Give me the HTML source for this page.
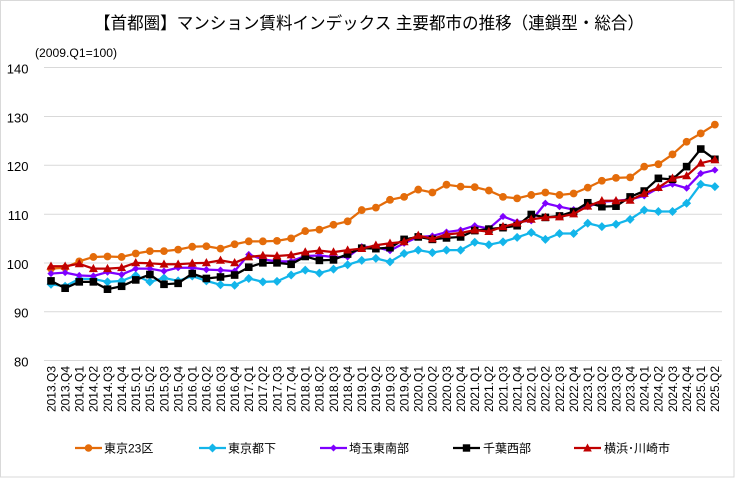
<!DOCTYPE html>
<html><head><meta charset="utf-8"><style>
html,body{margin:0;padding:0;background:#fff;}
svg{display:block;}
text{font-family:"Liberation Sans","Noto Sans CJK JP",sans-serif;fill:#000;}
</style></head><body>
<svg id="c" width="736" height="478" viewBox="0 0 736 478" xmlns="http://www.w3.org/2000/svg">
<rect x="0.5" y="0.5" width="733.5" height="476.5" fill="#fff" stroke="#d9d9d9" stroke-width="1"/>
<text x="94" y="29" font-size="17" textLength="550" lengthAdjust="spacingAndGlyphs">【首都圏】マンション賃料インデックス 主要都市の推移（連鎖型・総合）</text>
<text x="35" y="57" font-size="11.5" textLength="82" lengthAdjust="spacingAndGlyphs">(2009.Q1=100)</text>
<g stroke="#d9d9d9" stroke-width="1">
<line x1="44" x2="722" y1="67.5" y2="67.5"/>
<line x1="44" x2="722" y1="116.5" y2="116.5"/>
<line x1="44" x2="722" y1="165.3" y2="165.3"/>
<line x1="44" x2="722" y1="214.2" y2="214.2"/>
<line x1="44" x2="722" y1="263" y2="263"/>
<line x1="44" x2="722" y1="311.8" y2="311.8"/>
<line x1="44" x2="722" y1="360.5" y2="360.5"/>
</g>
<g font-size="13" text-anchor="end">
<text x="28.5" y="73.5">140</text>
<text x="28.5" y="122.3">130</text>
<text x="28.5" y="171.2">120</text>
<text x="28.5" y="220">110</text>
<text x="28.5" y="268.8">100</text>
<text x="28.5" y="317.6">90</text>
<text x="28.5" y="366.4">80</text>
</g>
<g font-size="12" text-anchor="end">
<text transform="translate(55.3,366) rotate(-90)">2013.Q3</text>
<text transform="translate(69.4,366) rotate(-90)">2013.Q4</text>
<text transform="translate(83.5,366) rotate(-90)">2014.Q1</text>
<text transform="translate(97.7,366) rotate(-90)">2014.Q2</text>
<text transform="translate(111.8,366) rotate(-90)">2014.Q3</text>
<text transform="translate(125.9,366) rotate(-90)">2014.Q4</text>
<text transform="translate(140.0,366) rotate(-90)">2015.Q1</text>
<text transform="translate(154.2,366) rotate(-90)">2015.Q2</text>
<text transform="translate(168.3,366) rotate(-90)">2015.Q3</text>
<text transform="translate(182.4,366) rotate(-90)">2015.Q4</text>
<text transform="translate(196.5,366) rotate(-90)">2016.Q1</text>
<text transform="translate(210.7,366) rotate(-90)">2016.Q2</text>
<text transform="translate(224.8,366) rotate(-90)">2016.Q3</text>
<text transform="translate(238.9,366) rotate(-90)">2016.Q4</text>
<text transform="translate(253.0,366) rotate(-90)">2017.Q1</text>
<text transform="translate(267.2,366) rotate(-90)">2017.Q2</text>
<text transform="translate(281.3,366) rotate(-90)">2017.Q3</text>
<text transform="translate(295.4,366) rotate(-90)">2017.Q4</text>
<text transform="translate(309.5,366) rotate(-90)">2018.Q1</text>
<text transform="translate(323.7,366) rotate(-90)">2018.Q2</text>
<text transform="translate(337.8,366) rotate(-90)">2018.Q3</text>
<text transform="translate(351.9,366) rotate(-90)">2018.Q4</text>
<text transform="translate(366.0,366) rotate(-90)">2019.Q1</text>
<text transform="translate(380.2,366) rotate(-90)">2019.Q2</text>
<text transform="translate(394.3,366) rotate(-90)">2019.Q3</text>
<text transform="translate(408.4,366) rotate(-90)">2019.Q4</text>
<text transform="translate(422.5,366) rotate(-90)">2020.Q1</text>
<text transform="translate(436.7,366) rotate(-90)">2020.Q2</text>
<text transform="translate(450.8,366) rotate(-90)">2020.Q3</text>
<text transform="translate(464.9,366) rotate(-90)">2020.Q4</text>
<text transform="translate(479.0,366) rotate(-90)">2021.Q1</text>
<text transform="translate(493.2,366) rotate(-90)">2021.Q2</text>
<text transform="translate(507.3,366) rotate(-90)">2021.Q3</text>
<text transform="translate(521.4,366) rotate(-90)">2021.Q4</text>
<text transform="translate(535.5,366) rotate(-90)">2022.Q1</text>
<text transform="translate(549.7,366) rotate(-90)">2022.Q2</text>
<text transform="translate(563.8,366) rotate(-90)">2022.Q3</text>
<text transform="translate(577.9,366) rotate(-90)">2022.Q4</text>
<text transform="translate(592.0,366) rotate(-90)">2023.Q1</text>
<text transform="translate(606.2,366) rotate(-90)">2023.Q2</text>
<text transform="translate(620.3,366) rotate(-90)">2023.Q3</text>
<text transform="translate(634.4,366) rotate(-90)">2023.Q4</text>
<text transform="translate(648.5,366) rotate(-90)">2024.Q1</text>
<text transform="translate(662.7,366) rotate(-90)">2024.Q2</text>
<text transform="translate(676.8,366) rotate(-90)">2024.Q3</text>
<text transform="translate(690.9,366) rotate(-90)">2024.Q4</text>
<text transform="translate(705.0,366) rotate(-90)">2025.Q1</text>
<text transform="translate(719.2,366) rotate(-90)">2025.Q2</text>
</g>
<g id="series"></g>
<!-- legend -->
<g font-size="12">
<line x1="75" x2="102" y1="448" y2="448" stroke="#E46C0A" stroke-width="2.25"/>
<circle cx="88.5" cy="448" r="3.8" fill="#E46C0A"/>
<text x="104" y="452.5">東京23区</text>
<line x1="199" x2="226" y1="448" y2="448" stroke="#13B5EA" stroke-width="2.25"/>
<polygon points="212.5,443.5 217,448 212.5,452.5 208,448" fill="#13B5EA"/>
<text x="228" y="452.5">東京都下</text>
<line x1="320" x2="347" y1="448" y2="448" stroke="#7F00FF" stroke-width="2.25"/>
<polygon points="333.5,444.5 337,448 333.5,451.5 330,448" fill="#7F00FF"/>
<text x="349" y="452.5">埼玉東南部</text>
<line x1="453" x2="480" y1="448" y2="448" stroke="#000" stroke-width="2.25"/>
<rect x="462.8" y="444.3" width="7.4" height="7.4" fill="#000"/>
<text x="483" y="452.5">千葉西部</text>
<line x1="574" x2="601" y1="448" y2="448" stroke="#C00000" stroke-width="2.25"/>
<polygon points="587.5,443.5 591.8,451.5 583.2,451.5" fill="#C00000"/>
<text x="604" y="452.5">横浜･川崎市</text>
</g>
</svg>
<script>
(function(){
var NS="http://www.w3.org/2000/svg";
function X(i){return 51+i*14.125;}
function Y(v){return 67.5+(140-v)*4.883;}
var S=[
{c:"#E46C0A",m:"o",d:[98.8,99.0,100.3,101.2,101.3,101.2,101.9,102.4,102.4,102.7,103.3,103.4,102.9,103.8,104.4,104.4,104.5,105.0,106.5,106.8,107.8,108.5,110.8,111.3,112.9,113.5,115.0,114.4,116.0,115.6,115.5,114.8,113.5,113.2,113.9,114.4,113.9,114.2,115.4,116.8,117.4,117.5,119.7,120.2,122.2,124.8,126.5,128.3]},
{c:"#13B5EA",m:"d",r:4.5,d:[95.6,95.2,96.7,96.7,96.1,96.3,97.4,96.1,96.9,96.3,97.3,96.3,95.5,95.4,96.8,96.1,96.2,97.5,98.5,97.9,98.7,99.6,100.5,100.9,100.2,101.9,102.6,102.1,102.6,102.6,104.2,103.7,104.3,105.2,106.2,104.8,106.0,106.0,108.1,107.4,107.9,108.9,110.8,110.5,110.5,112.2,116.1,115.6]},
{c:"#7F00FF",m:"d",r:3.6,d:[97.8,98.0,97.4,97.3,98.1,97.6,98.8,98.8,98.3,99.0,99.0,98.6,98.5,98.3,101.7,100.7,100.3,100.3,101.4,101.5,101.2,101.2,103.3,103.2,102.5,104.0,105.3,105.5,106.3,106.7,107.6,107.0,109.5,108.4,108.6,112.2,111.5,110.9,111.5,112.5,112.7,113.0,113.7,115.3,116.1,115.3,118.3,119.0]},
{c:"#000000",m:"s",d:[96.3,94.8,96.1,96.1,94.6,95.2,96.5,97.6,95.6,95.8,97.8,96.8,97.1,97.5,99.1,100.0,100.0,99.7,101.3,100.5,100.6,101.8,103.0,102.9,103.1,104.8,105.3,104.8,105.1,105.3,106.6,106.9,107.2,107.6,109.9,109.3,109.6,110.5,112.3,111.5,111.6,113.5,114.7,117.3,117.1,119.7,123.3,121.2]},
{c:"#C00000",m:"t",d:[99.3,99.3,99.8,98.8,98.8,99.0,100.0,99.9,99.7,99.7,99.9,100.0,100.5,100.0,101.2,101.5,101.4,101.6,102.2,102.5,102.2,102.6,102.9,103.6,104.0,104.3,105.6,104.9,105.8,106.1,106.7,106.4,107.4,108.1,108.9,109.3,109.4,110.0,111.6,112.7,112.7,112.8,114.2,115.4,117.3,117.8,120.4,121.1]}
];
var g=document.getElementById("series");
S.forEach(function(s){
  var pts=s.d.map(function(v,i){return X(i).toFixed(2)+","+Y(v).toFixed(2);}).join(" ");
  var pl=document.createElementNS(NS,"polyline");
  pl.setAttribute("points",pts);pl.setAttribute("fill","none");
  pl.setAttribute("stroke",s.c);pl.setAttribute("stroke-width","2.25");
  pl.setAttribute("stroke-linejoin","round");
  g.appendChild(pl);
  s.d.forEach(function(v,i){
    var x=X(i),y=Y(v),e;
    if(s.m==="o"){e=document.createElementNS(NS,"circle");e.setAttribute("cx",x);e.setAttribute("cy",y);e.setAttribute("r",3.9);}
    else if(s.m==="s"){e=document.createElementNS(NS,"rect");e.setAttribute("x",x-3.8);e.setAttribute("y",y-3.8);e.setAttribute("width",7.6);e.setAttribute("height",7.6);}
    else if(s.m==="d"){var r=s.r;e=document.createElementNS(NS,"polygon");e.setAttribute("points",x+","+(y-r)+" "+(x+r)+","+y+" "+x+","+(y+r)+" "+(x-r)+","+y);}
    else {e=document.createElementNS(NS,"polygon");e.setAttribute("points",x+","+(y-4.8)+" "+(x+4.5)+","+(y+3.4)+" "+(x-4.5)+","+(y+3.4));}
    e.setAttribute("fill",s.c);
    g.appendChild(e);
  });
});
})();
</script>
</body></html>
